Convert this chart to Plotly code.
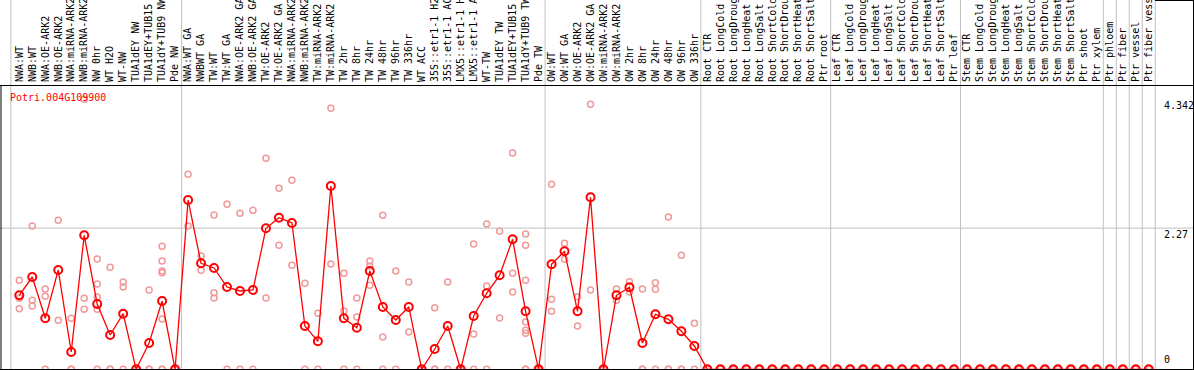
import plotly.graph_objects as go

gene_id = "Potri.004G109900"

categories = [
    "NWA:WT", "NWB:WT", "NWA:OE-ARK2", "NWB:OE-ARK2", "NWA:miRNA-ARK2", "NWB:miRNA-ARK2",
    "NW 0hr", "WT H2O", "WT-NW", "TUA1dEY NW", "TUA1dEY+TUB15 NW", "TUA1dY+TUB9 NW", "Pde NW",
    "NWA:WT GA", "NWBWT GA", "TW:WT", "TW:WT GA", "NWA:OE-ARK2 GA", "NWB:OE-ARK2 GA",
    "TW:OE-ARK2", "TW:OE-ARK2 GA", "NWA:miRNA-ARK2 GA", "NWB:miRNA-ARK2 GA", "TW:miRNA-ARK2",
    "TW:miRNA-ARK2 GA", "TW 2hr", "TW 8hr", "TW 24hr", "TW 48hr", "TW 96hr", "TW 336hr",
    "WT ACC", "35S::etr1-1 H2O", "35S::etr1-1 ACC", "LMX5::etr1-1 H2O", "LMX5::etr1-1 ACC",
    "WT-TW", "TUA1dEY TW", "TUA1dEY+TUB15 TW", "TUA1dY+TUB9 TW", "Pde TW",
    "OW:WT", "OW:WT GA", "OW:OE-ARK2", "OW:OE-ARK2 GA", "OW:miRNA-ARK2", "OW:miRNA-ARK2 GA",
    "OW 2hr", "OW 8hr", "OW 24hr", "OW 48hr", "OW 96hr", "OW 336hr",
    "Root CTR", "Root LongCold", "Root LongDrought", "Root LongHeat", "Root LongSalt",
    "Root ShortCold", "Root ShortDrought", "Root ShortHeat", "Root ShortSalt", "Ptr root",
    "Leaf CTR", "Leaf LongCold", "Leaf LongDrought", "Leaf LongHeat", "Leaf LongSalt",
    "Leaf ShortCold", "Leaf ShortDrought", "Leaf ShortHeat", "Leaf ShortSalt", "Ptr leaf",
    "Stem CTR", "Stem LongCold", "Stem LongDrought", "Stem LongHeat", "Stem LongSalt",
    "Stem ShortCold", "Stem ShortDrought", "Stem ShortHeat", "Stem ShortSalt", "Ptr shoot",
    "Ptr xylem", "Ptr phloem", "Ptr fiber", "Ptr vessel", "Ptr fiber vessel",
]

mean_values = [
    1.190, 1.484, 0.820, 1.596, 0.278, 2.154, 1.050, 0.551, 0.894, 0.0, 0.423, 1.098, 0.0,
    2.722, 1.704, 1.629, 1.323, 1.259, 1.275, 2.267, 2.437, 2.352, 0.696, 0.450, 2.947,
    0.820, 0.669, 1.580, 1.002, 0.793, 1.002, 0.0, 0.326, 0.696, 0.0, 0.857, 1.222, 1.511,
    2.090, 0.932, 0.0,
    1.688, 1.897, 0.932, 2.765, 0.0, 1.190, 1.318, 0.423, 0.884, 0.804, 0.611, 0.375,
] + [0.0] * 35

replicates = [
    [1.431, 1.141, 0.974], [2.304, 1.109, 1.018], [1.291, 1.174, 0], [2.395, 0.788],
    [0.820, 0, 0], [4.342, 1.141, 0.965], [1.773, 1.371, 1.162, 0.965, 0], [1.640, 0, 0],
    [1.404, 1.323, 0], [0, 0, 0], [1.275, 0, 0], [1.977, 1.741, 1.580, 1.553, 0.809, 0, 0],
    [0, 0, 0],
    [3.135, 2.304], [1.822, 1.592], [2.481, 1.232, 1.146], [2.653, 0], [2.508, 0], [2.556, 0],
    [3.392, 1.146], [2.910, 1.994], [3.039, 1.672], [1.383, 0], [0.900, 0], [4.196, 1.693],
    [1.543, 0.937, 0], [1.146, 0.841, 0], [1.741, 1.661, 1.350], [2.476, 0.519, 0],
    [1.580, 0], [1.404, 0.600], [0, 0], [0.991, 0, 0], [1.404, 0], [0, 0],
    [2.015, 0.568, 0], [2.336, 1.339, 0], [2.219, 0.825], [3.477, 1.543, 1.243],
    [2.175, 1.994, 1.431, 0.760, 0.627, 0.579, 0, 0], [0, 0],
    [2.974, 1.125, 0.932], [2.026, 1.768], [1.167, 0.696], [4.260, 1.275], [0, 0],
    [1.291, 1.109], [1.408, 1.243], [1.291, 0, 0], [1.392, 1.286, 0], [2.449, 0, 0],
    [1.833, 0, 0], [0.740, 0],
] + [[0, 0]] * 35

y_tick_values = [4.342, 2.27, 0]
y_tick_labels = ["4.342", "2.27", "0"]

# group separators: drawn after these category positions
separator_after = [13, 41, 53, 63, 73, 84, 85, 86, 87, 88]

# ---- layout geometry ----
W, H = 1194, 370
TOP = 86
x_range = [-0.4867, 91.487]
y_range = [-0.01125, 4.5547]
FONT = "DejaVu Sans Mono"

xs = list(range(1, len(categories) + 1))
rep_x, rep_y = [], []
for xi, reps in zip(xs, replicates):
    for r in reps:
        rep_x.append(xi)
        rep_y.append(r)


def px_x(px):
    return px / W


def px_y(py):
    return (H - py) / (H - TOP)


def data_to_paper_x(v):
    return (v - x_range[0]) / (x_range[1] - x_range[0])


fig = go.Figure()
fig.add_trace(go.Scatter(
    x=rep_x, y=rep_y, mode="markers",
    marker=dict(symbol="circle-open", size=6, color="#f09a9a", line=dict(width=1.5, color="#f09a9a")),
    hoverinfo="skip", showlegend=False,
))
fig.add_trace(go.Scatter(
    x=xs, y=mean_values, mode="lines+markers",
    line=dict(color="#ff0000", width=1.3),
    marker=dict(symbol="circle-open", size=8, color="#ff0000", line=dict(width=2, color="#ff0000")),
    showlegend=False,
))

shapes = []
gray = "#c0c0c0"
sep_positions = [0.35] + [k + 0.5 for k in separator_after]
for s in sep_positions:
    px = data_to_paper_x(s)
    shapes.append(dict(type="line", xref="paper", yref="paper", x0=px, x1=px,
                       y0=0, y1=px_y(0), line=dict(color=gray, width=1), layer="below"))
shapes.append(dict(type="line", xref="paper", yref="y", x0=0, x1=1,
                   y0=y_tick_values[1], y1=y_tick_values[1],
                   line=dict(color=gray, width=1), layer="below"))
black = "#000000"
shapes += [
    dict(type="line", xref="paper", yref="paper", x0=0, x1=1, y0=px_y(85.5), y1=px_y(85.5),
         line=dict(color=black, width=1)),
    dict(type="line", xref="paper", yref="paper", x0=0, x1=1, y0=px_y(369.5), y1=px_y(369.5),
         line=dict(color=black, width=1)),
    dict(type="line", xref="paper", yref="paper", x0=px_x(1), x1=px_x(1), y0=0, y1=px_y(85.5),
         line=dict(color=black, width=1)),
    dict(type="line", xref="paper", yref="paper", x0=px_x(1193.5), x1=px_x(1193.5), y0=0, y1=px_y(0),
         line=dict(color=black, width=1)),
    dict(type="line", xref="paper", yref="paper", x0=px_x(1155), x1=1, y0=px_y(0.5), y1=px_y(0.5),
         line=dict(color=black, width=1)),
]

annotations = [
    dict(text=gene_id, xref="paper", yref="paper", x=px_x(8), y=px_y(90), xanchor="left",
         yanchor="top", showarrow=False, font=dict(family=FONT, size=10, color="#ff0000")),
]
for v, lab in zip(y_tick_values, y_tick_labels):
    if v == 0:
        annotations.append(dict(text=lab, xref="paper", yref="y", x=px_x(1162), y=v, xanchor="left",
                                yanchor="bottom", yshift=2, showarrow=False,
                                font=dict(family=FONT, size=10, color="#000000")))
    else:
        annotations.append(dict(text=lab, xref="paper", yref="y", x=px_x(1162), y=v, xanchor="left",
                                yanchor="top", yshift=1, showarrow=False,
                                font=dict(family=FONT, size=10, color="#000000")))

fig.update_layout(
    template="none",
    width=W, height=H,
    margin=dict(l=0, r=0, t=TOP, b=0, pad=0),
    paper_bgcolor="white", plot_bgcolor="white",
    shapes=shapes, annotations=annotations,
    xaxis=dict(range=x_range, side="top", tickmode="array", tickvals=xs, ticktext=categories,
               tickangle=-90, tickfont=dict(family=FONT, size=10, color="#000000"),
               ticklabelstandoff=3,
               showgrid=False, zeroline=False, showline=False, ticks="", automargin=False),
    yaxis=dict(range=y_range, showticklabels=False, showgrid=False, zeroline=False,
               showline=False, ticks="", automargin=False),
)

fig.write_html("out.html", config={"displayModeBar": False},
               post_script="document.body.style.margin='0';document.body.style.overflow='hidden';")
